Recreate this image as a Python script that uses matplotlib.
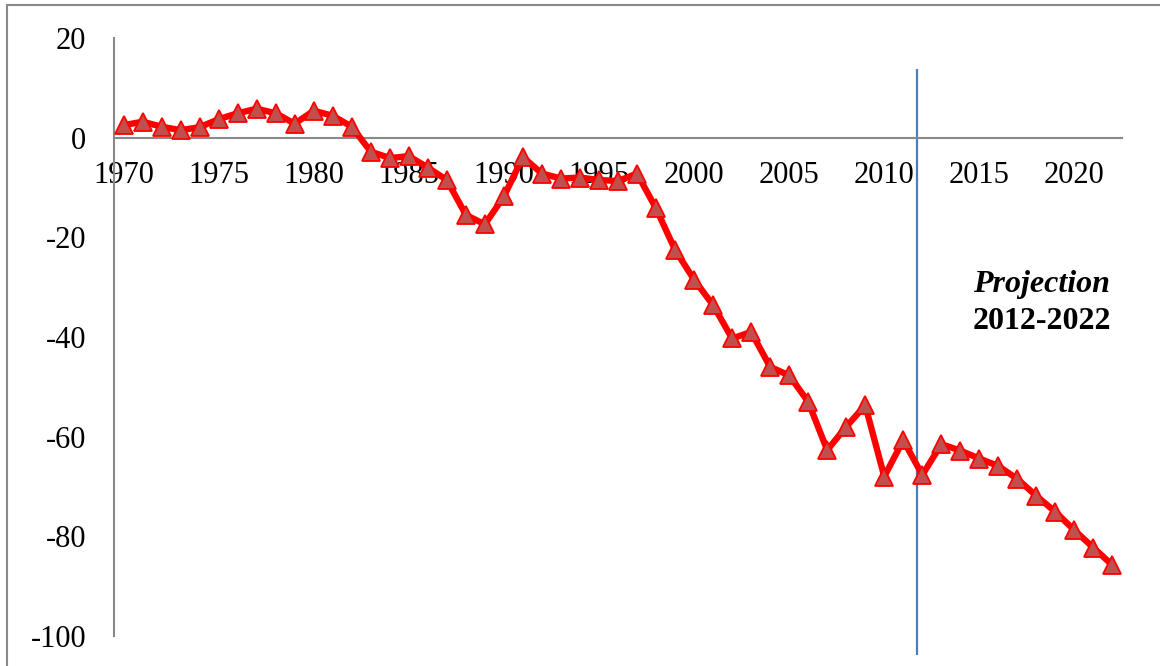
import matplotlib
matplotlib.use("Agg")
import matplotlib.pyplot as plt
import matplotlib.patches as mpatches

plt.rcParams['font.family'] = ['Liberation Serif', 'DejaVu Serif']

# Yearly values
years = list(range(1970, 2023))
values = [
    2.5, 3.2, 2.2, 1.5, 2.1, 3.7, 4.9, 5.8, 4.9, 2.8,
    5.4, 4.4, 2.2, -2.8, -4.1, -3.7, -6.0, -8.5, -15.5, -17.4,
    -11.8, -3.9, -7.2, -8.2, -8.0, -8.5, -8.7, -7.2, -14.2, -22.5,
    -28.5, -33.6, -40.3, -39.0, -46.0, -47.7, -53.0, -62.7, -58.0, -53.7,
    -68.0, -60.7, -67.7, -61.5, -62.8, -64.4, -65.9, -68.5, -71.9, -75.1,
    -78.8, -82.3, -85.8,
]
x_ticks = [1970, 1975, 1980, 1985, 1990, 1995, 2000, 2005, 2010, 2015, 2020]
y_ticks = [20, 0, -20, -40, -60, -80, -100]
projection_start = 2011.7
GRAY = '#898989'

fig = plt.figure(figsize=(11.6, 6.66), dpi=100)
ax = fig.add_axes([114 / 1160, 1 - 636 / 666, (1122 - 114) / 1160, (636 - 38) / 666])

# outer chart frame (only top and left edges fall inside the picture)
fig.patches.append(mpatches.Rectangle((7 / 1160, -0.1), 1.2, 1 - 5 / 666 + 0.1,
                                      transform=fig.transFigure, fill=False,
                                      edgecolor=GRAY, linewidth=1.5))

ax.plot(years, values, color='#ff0000', linewidth=4.6, marker='^', markersize=12.5,
        markerfacecolor='#c0504d', markeredgecolor='#ff0000', markeredgewidth=1.3,
        zorder=3)

# projection divider
ax.vlines(projection_start, -103.8, 13.8, color='#4a7ebb', linewidth=1.6,
          clip_on=False, zorder=2)
ax.text(2014.65, -30.9, 'Projection', fontsize=23, fontweight='bold',
        fontstyle='italic', ha='left', va='baseline')
ax.text(2014.65, -38.3, '2012-2022', fontsize=23, fontweight='bold',
        ha='left', va='baseline')

ax.set_xlim(1969.5, 2022.5)
ax.set_ylim(-100, 20)
ax.set_xticks(x_ticks)
ax.set_yticks(y_ticks)
ax.set_yticklabels([str(v) for v in y_ticks])

for side in ['top', 'right']:
    ax.spines[side].set_visible(False)
ax.spines['bottom'].set_position(('data', 0))
ax.spines['bottom'].set_color(GRAY)
ax.spines['bottom'].set_linewidth(1.5)
ax.spines['left'].set_color(GRAY)
ax.spines['left'].set_linewidth(1.5)

ax.tick_params(axis='x', length=0, labelsize=22, pad=17)
ax.tick_params(axis='y', length=0, labelsize=22, pad=20)

fig.savefig('out.png', dpi=100)
